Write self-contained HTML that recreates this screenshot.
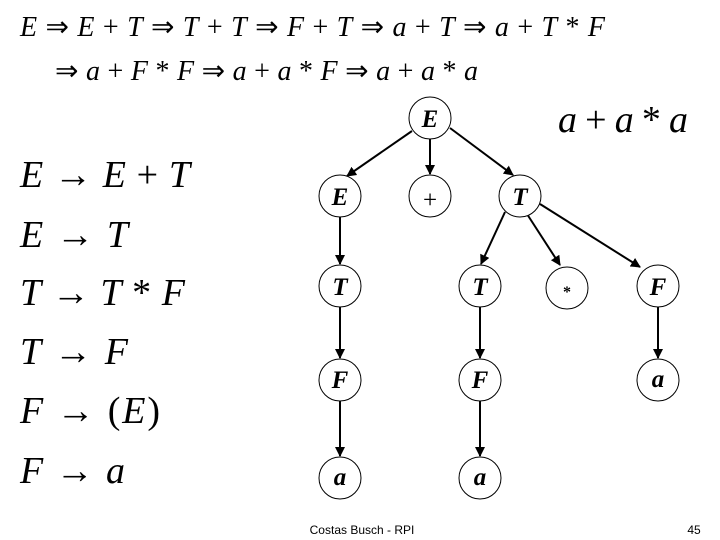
<!DOCTYPE html>
<html><head><style>body{margin:0;background:#fff}svg{display:block}</style></head><body>
<svg width="720" height="540" xmlns="http://www.w3.org/2000/svg" font-family="Liberation Serif, serif">
<defs><marker id="ar" markerWidth="10" markerHeight="10" refX="9" refY="5" orient="auto" markerUnits="userSpaceOnUse"><path d="M0,0 L10,5 L0,10 z" fill="#000"/></marker></defs>
<g font-size="28" fill="#000">
<text x="20" y="36" textLength="585" lengthAdjust="spacing"><tspan font-style="italic">E</tspan> ⇒ <tspan font-style="italic">E</tspan> + <tspan font-style="italic">T</tspan> ⇒ <tspan font-style="italic">T</tspan> + <tspan font-style="italic">T</tspan> ⇒ <tspan font-style="italic">F</tspan> + <tspan font-style="italic">T</tspan> ⇒ <tspan font-style="italic">a</tspan> + <tspan font-style="italic">T</tspan> ⇒ <tspan font-style="italic">a</tspan> + <tspan font-style="italic">T</tspan> * <tspan font-style="italic">F</tspan></text>
<text x="55" y="80" textLength="423" lengthAdjust="spacing">⇒ <tspan font-style="italic">a</tspan> + <tspan font-style="italic">F</tspan> * <tspan font-style="italic">F</tspan> ⇒ <tspan font-style="italic">a</tspan> + <tspan font-style="italic">a</tspan> * <tspan font-style="italic">F</tspan> ⇒ <tspan font-style="italic">a</tspan> + <tspan font-style="italic">a</tspan> * <tspan font-style="italic">a</tspan></text>
</g>
<g font-size="38" fill="#000">
<text x="20" y="187" textLength="170" lengthAdjust="spacing"><tspan font-style="italic">E</tspan> → <tspan font-style="italic">E</tspan> + <tspan font-style="italic">T</tspan></text>
<text x="20" y="247" textLength="108" lengthAdjust="spacing"><tspan font-style="italic">E</tspan> → <tspan font-style="italic">T</tspan></text>
<text x="20" y="305" textLength="165" lengthAdjust="spacing"><tspan font-style="italic">T</tspan> → <tspan font-style="italic">T</tspan> * <tspan font-style="italic">F</tspan></text>
<text x="20" y="364" textLength="108" lengthAdjust="spacing"><tspan font-style="italic">T</tspan> → <tspan font-style="italic">F</tspan></text>
<text x="20" y="423" textLength="140" lengthAdjust="spacing"><tspan font-style="italic">F</tspan> → (<tspan font-style="italic">E</tspan>)</text>
<text x="20" y="483" textLength="105" lengthAdjust="spacing"><tspan font-style="italic">F</tspan> → <tspan font-style="italic">a</tspan></text>
<text x="558" y="132" textLength="130" lengthAdjust="spacing"><tspan font-style="italic">a</tspan> + <tspan font-style="italic">a</tspan> * <tspan font-style="italic">a</tspan></text>
</g>
<g stroke="#000" stroke-width="2" marker-end="url(#ar)">
<line x1="412" y1="131" x2="347" y2="176"/>
<line x1="430" y1="139" x2="430" y2="174"/>
<line x1="450" y1="128" x2="513" y2="175"/>
<line x1="340" y1="217" x2="340" y2="264"/>
<line x1="505" y1="212" x2="481" y2="264"/>
<line x1="527" y1="214" x2="560" y2="265"/>
<line x1="540" y1="204" x2="640" y2="267"/>
<line x1="340" y1="307" x2="340" y2="358"/>
<line x1="480" y1="307" x2="480" y2="358"/>
<line x1="658" y1="307" x2="658" y2="358"/>
<line x1="340" y1="401" x2="340" y2="456"/>
<line x1="480" y1="401" x2="480" y2="456"/>
</g>
<g fill="#fff" stroke="#000" stroke-width="1">
<circle cx="430" cy="118" r="21"/>
<circle cx="340" cy="196" r="21"/><circle cx="430" cy="196" r="21"/><circle cx="520" cy="196" r="21"/>
<circle cx="340" cy="286" r="21"/><circle cx="480" cy="286" r="21"/><circle cx="567" cy="288" r="21"/><circle cx="658" cy="286" r="21"/>
<circle cx="340" cy="380" r="21"/><circle cx="480" cy="380" r="21"/><circle cx="658" cy="380" r="21"/>
<circle cx="340" cy="478" r="21"/><circle cx="480" cy="478" r="21"/>
</g>
<g font-size="25" font-weight="bold" font-style="italic" text-anchor="middle" fill="#000">
<text x="430" y="127">E</text>
<text x="340" y="205">E</text><text x="430" y="208" font-weight="normal" font-style="normal">+</text><text x="520" y="205">T</text>
<text x="340" y="295">T</text><text x="480" y="295">T</text><text x="567" y="297" font-size="16" font-style="normal">*</text><text x="658" y="295">F</text>
<text x="340" y="388">F</text><text x="480" y="388">F</text><text x="658" y="387">a</text>
<text x="340" y="485">a</text><text x="480" y="485">a</text>
</g>
<text x="362" y="534" font-family="Liberation Sans, sans-serif" font-size="12" text-anchor="middle">Costas Busch - RPI</text>
<text x="694" y="534" font-family="Liberation Sans, sans-serif" font-size="12" text-anchor="middle">45</text>
</svg>
</body></html>
